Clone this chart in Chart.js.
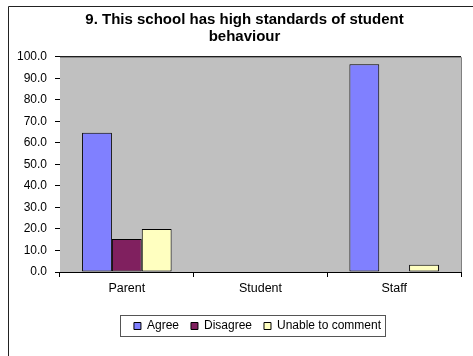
<!DOCTYPE html>
<html>
<head>
<meta charset="utf-8">
<script src="https://cdn.jsdelivr.net/npm/chart.js@4.4.0/dist/chart.umd.min.js"></script>
<style>
  html, body { margin: 0; padding: 0; background: #fff; }
  #wrap { width: 473px; height: 356px; }
</style>
</head>
<body>
<div id="wrap"><canvas id="chart" width="473" height="356"></canvas></div>
<script>
const categories = ['Parent', 'Student', 'Staff'];
const agree = [64.7, null, 96.6];
const disagree = [15.3, null, 0];
const unable = [20.0, null, 3.4];
const yTicks = { min: 0, max: 100, step: 10 };

const FONT = 'Arial, "Liberation Sans", sans-serif';

// grey plot area, frame lines and the boxed legend
const excelLook = {
  id: 'excelLook',
  afterLayout(chart) {
    // nudge title and legend a bit right of the canvas centre
    chart.titleBlock.left += 10;
    chart.titleBlock.right += 10;
    chart.legend.left += 23;
    chart.legend.right += 23;
  },
  beforeDatasetsDraw(chart) {
    const { ctx, chartArea: a } = chart;
    ctx.save();
    ctx.fillStyle = '#c0c0c0';
    ctx.fillRect(a.left, a.top, a.right - a.left, a.bottom - a.top);
    ctx.restore();
  },
  beforeDraw(chart) {
    const { ctx } = chart;
    ctx.save();
    ctx.fillStyle = '#fff';
    ctx.fillRect(0, 0, chart.width, chart.height);
    ctx.strokeStyle = '#222';
    ctx.lineWidth = 1;
    ctx.beginPath();
    ctx.moveTo(8.5, chart.height);
    ctx.lineTo(8.5, 6.5);
    ctx.lineTo(chart.width, 6.5);
    ctx.stroke();
    ctx.restore();
  },
  afterDraw(chart) {
    const { ctx, chartArea: a } = chart;
    ctx.save();
    ctx.strokeStyle = '#808080';
    ctx.lineWidth = 1;
    ctx.beginPath();
    ctx.moveTo(a.left, a.top + 0.5);
    ctx.lineTo(a.right + 0.5, a.top + 0.5);
    ctx.lineTo(a.right + 0.5, a.bottom);
    ctx.stroke();
    const boxes = chart.legend.legendHitBoxes;
    if (boxes && boxes.length) {
      const l = Math.min(...boxes.map(b => b.left)) - 14;
      const r = Math.max(...boxes.map(b => b.left + b.width)) + 4;
      const t = Math.min(...boxes.map(b => b.top)) - 5;
      const btm = Math.max(...boxes.map(b => b.top + b.height)) + 4;
      ctx.strokeStyle = '#555';
      ctx.strokeRect(Math.round(l) + 0.5, Math.round(t) + 0.5, Math.round(r - l), Math.round(btm - t));
    }
    ctx.restore();
  }
};

const ds = (label, data, color) => ({
  label,
  data,
  backgroundColor: color,
  borderColor: '#000',
  borderWidth: 1,
  borderSkipped: false,
  categoryPercentage: 0.67,
  barPercentage: 1
});

new Chart(document.getElementById('chart').getContext('2d'), {
  type: 'bar',
  data: {
    labels: categories,
    datasets: [
      ds('Agree', agree, '#8080ff'),
      ds('Disagree', disagree, '#80205f'),
      ds('Unable to comment', unable, '#ffffc0')
    ]
  },
  options: {
    responsive: false,
    animation: false,
    layout: { padding: { left: 8, right: 12, top: 6, bottom: 14 } },
    plugins: {
      title: {
        display: true,
        text: ['9. This school has high standards of student', 'behaviour'],
        color: '#000',
        font: { family: FONT, size: 15, weight: 'bold', lineHeight: 1.13 },
        padding: { top: 5, bottom: 12 }
      },
      legend: {
        position: 'bottom',
        labels: {
          color: '#000',
          font: { family: FONT, size: 12 },
          boxWidth: 7,
          boxHeight: 7,
          padding: 12,
          generateLabels(chart) {
            return chart.data.datasets.map((d, i) => ({
              text: d.label,
              fillStyle: d.backgroundColor,
              strokeStyle: '#000',
              lineWidth: 1,
              datasetIndex: i
            }));
          }
        }
      },
      tooltip: { enabled: false }
    },
    scales: {
      x: {
        grid: { drawOnChartArea: false, drawTicks: true, tickLength: 5, color: '#000' },
        border: { color: '#000' },
        ticks: { color: '#000', font: { family: FONT, size: 12.5 }, padding: 4 },
        afterFit(s) { s.height = 36; }
      },
      y: {
        min: yTicks.min,
        max: yTicks.max,
        ticks: {
          stepSize: yTicks.step,
          color: '#000',
          font: { family: FONT, size: 12 },
          padding: 8,
          callback: v => v.toFixed(1)
        },
        grid: { color: '#000', tickLength: 5 },
        border: { color: '#000' },
        afterFit(s) { s.width = 52; }
      }
    }
  },
  plugins: [excelLook]
});
</script>
</body>
</html>
